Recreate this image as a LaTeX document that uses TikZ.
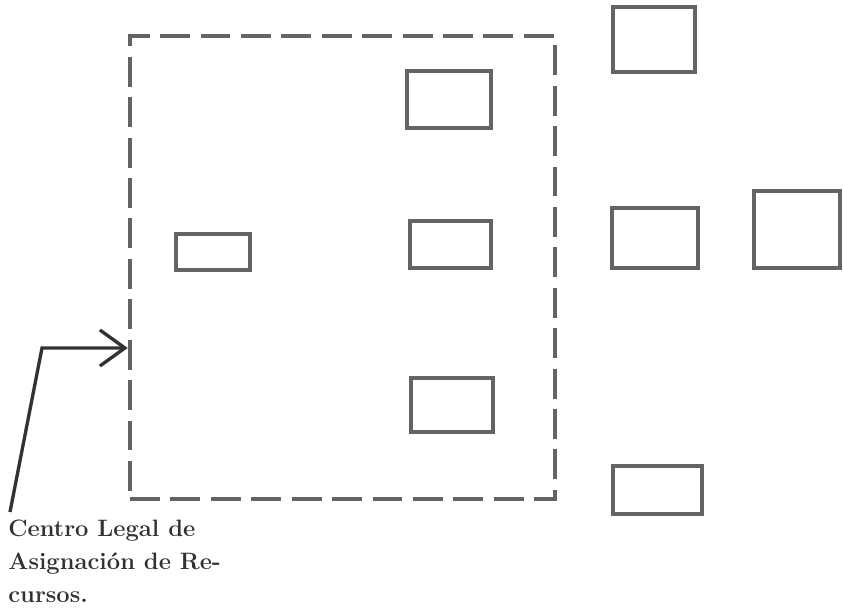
\documentclass[tikz,border=0pt]{standalone}
\usepackage{xcolor}
\usetikzlibrary{arrows.meta}
\definecolor{boxgray}{RGB}{100,100,100}
\definecolor{inkgray}{RGB}{50,50,50}

\begin{document}
\begin{tikzpicture}[
  x=0.02cm, y=-0.02cm,
  box/.style={draw=boxgray, line width=2.6pt, inner sep=0pt},
  zone/.style={draw=boxgray, line width=2.6pt, dash pattern=on 17pt off 6pt, inner sep=0pt},
  pointer/.style={-{Straight Barb[length=0.5cm, width=0.72cm, line width=1.9pt]}, draw=inkgray, line width=1.9pt},
  note/.style={font=\fontsize{13.5}{18.6}\selectfont\bfseries, align=left, text=inkgray, inner sep=0pt}
]
  \useasboundingbox (0,0) rectangle (843,608);
  % area of the legal centre
  \node[zone, minimum width=8.5cm, minimum height=9.26cm] (centro) at (342.5,267.5) {};
  % boxes
  \node[box, minimum width=1.64cm, minimum height=1.30cm] (a) at (654,39.5) {};
  \node[box, minimum width=1.68cm, minimum height=1.14cm] (b) at (449,99.5) {};
  \node[box, minimum width=1.48cm, minimum height=0.72cm] (c) at (213,252) {};
  \node[box, minimum width=1.62cm, minimum height=0.94cm] (d) at (450.5,244.5) {};
  \node[box, minimum width=1.72cm, minimum height=1.20cm] (e) at (655,238) {};
  \node[box, minimum width=1.72cm, minimum height=1.54cm] (f) at (797,229.5) {};
  \node[box, minimum width=1.64cm, minimum height=1.08cm] (g) at (452,405) {};
  \node[box, minimum width=1.78cm, minimum height=0.96cm] (h) at (657.5,490) {};
  % label and pointer
  \node[note, anchor=north west] (lbl) at (8,520)
    {Centro Legal de\\Asignación de Re-\\cursos.};
  \coordinate (tail) at (10,512);
  \coordinate (knee) at (42,348);
  \draw[pointer] (tail) -- (knee) -- (knee -| centro.west);
\end{tikzpicture}
\end{document}
